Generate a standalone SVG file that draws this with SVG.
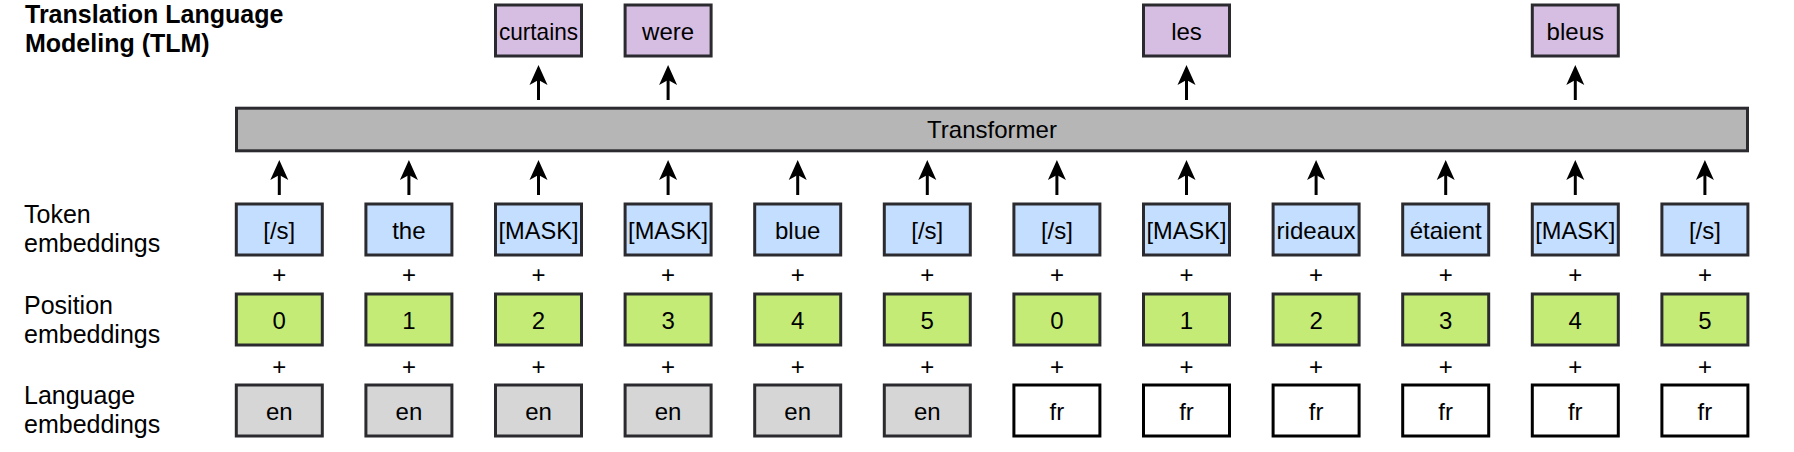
<svg xmlns="http://www.w3.org/2000/svg" width="1794" height="452" viewBox="0 0 1794 452">
<style>
text{font-family:"Liberation Sans",Arial,Helvetica,sans-serif;fill:#000}
.t{font-size:24px;text-anchor:middle}
.lbl{font-size:25px}
.title{font-size:25px;font-weight:bold}
.plus{font-size:24px;text-anchor:middle}
.box{stroke:#2b2b2f;stroke-width:3}
.tok{fill:#C3DEFF}
.pos{fill:#C5EB77}
.out{fill:#D6BEE2}
.en{fill:#D6D6D6}
.fr{fill:#FFFFFF;stroke:#000}
.tf{fill:#B6B6B6}
.conn line{stroke:#000;stroke-width:3}
</style>
<defs>
<marker id="ah" markerUnits="userSpaceOnUse" markerWidth="22" markerHeight="20" refX="12" refY="10" orient="auto" overflow="visible">
<path d="M0,1 L20,10 L0,19 L5,10 Z" fill="#000"/>
</marker>
</defs>

<g id="title">
<text class="title" x="25" y="23">Translation Language</text>
<text class="title" x="25" y="52">Modeling (TLM)</text>
</g>

<g id="labels">
<text class="lbl" x="24" y="223">Token</text>
<text class="lbl" x="24" y="252">embeddings</text>
<text class="lbl" x="24" y="314">Position</text>
<text class="lbl" x="24" y="343">embeddings</text>
<text class="lbl" x="24" y="404">Language</text>
<text class="lbl" x="24" y="433">embeddings</text>
</g>

<g id="transformer">
<rect class="box tf" x="236.5" y="108.2" width="1511" height="42.6"/>
<text class="t" x="992" y="138">Transformer</text>
</g>

<g id="out-curtains"><rect class="box out" x="495.5" y="5" width="86" height="51"/><text class="t" x="538.5" y="39.5" textLength="79" lengthAdjust="spacingAndGlyphs">curtains</text></g>
<g id="out-were"><rect class="box out" x="625.1" y="5" width="86" height="51"/><text class="t" x="668.1" y="39.5">were</text></g>
<g id="out-les"><rect class="box out" x="1143.5" y="5" width="86" height="51"/><text class="t" x="1186.5" y="39.5">les</text></g>
<g id="out-bleus"><rect class="box out" x="1532.3" y="5" width="86" height="51"/><text class="t" x="1575.3" y="39.5">bleus</text></g>

<g id="tok-0"><rect class="box tok" x="236.3" y="204" width="86" height="51"/><text class="t" x="279.3" y="238.5">[/s]</text></g>
<g id="tok-1"><rect class="box tok" x="365.9" y="204" width="86" height="51"/><text class="t" x="408.9" y="238.5">the</text></g>
<g id="tok-2"><rect class="box tok" x="495.5" y="204" width="86" height="51"/><text class="t" x="538.5" y="238.5" textLength="80" lengthAdjust="spacingAndGlyphs">[MASK]</text></g>
<g id="tok-3"><rect class="box tok" x="625.1" y="204" width="86" height="51"/><text class="t" x="668.1" y="238.5" textLength="80" lengthAdjust="spacingAndGlyphs">[MASK]</text></g>
<g id="tok-4"><rect class="box tok" x="754.7" y="204" width="86" height="51"/><text class="t" x="797.7" y="238.5">blue</text></g>
<g id="tok-5"><rect class="box tok" x="884.3" y="204" width="86" height="51"/><text class="t" x="927.3" y="238.5">[/s]</text></g>
<g id="tok-6"><rect class="box tok" x="1013.9" y="204" width="86" height="51"/><text class="t" x="1056.9" y="238.5">[/s]</text></g>
<g id="tok-7"><rect class="box tok" x="1143.5" y="204" width="86" height="51"/><text class="t" x="1186.5" y="238.5" textLength="80" lengthAdjust="spacingAndGlyphs">[MASK]</text></g>
<g id="tok-8"><rect class="box tok" x="1273.1" y="204" width="86" height="51"/><text class="t" x="1316.1" y="238.5" textLength="79" lengthAdjust="spacingAndGlyphs">rideaux</text></g>
<g id="tok-9"><rect class="box tok" x="1402.7" y="204" width="86" height="51"/><text class="t" x="1445.7" y="238.5">étaient</text></g>
<g id="tok-10"><rect class="box tok" x="1532.3" y="204" width="86" height="51"/><text class="t" x="1575.3" y="238.5" textLength="80" lengthAdjust="spacingAndGlyphs">[MASK]</text></g>
<g id="tok-11"><rect class="box tok" x="1661.9" y="204" width="86" height="51"/><text class="t" x="1704.9" y="238.5">[/s]</text></g>

<g id="pos-0"><rect class="box pos" x="236.3" y="294" width="86" height="51"/><text class="t" x="279.3" y="328.5">0</text></g>
<g id="pos-1"><rect class="box pos" x="365.9" y="294" width="86" height="51"/><text class="t" x="408.9" y="328.5">1</text></g>
<g id="pos-2"><rect class="box pos" x="495.5" y="294" width="86" height="51"/><text class="t" x="538.5" y="328.5">2</text></g>
<g id="pos-3"><rect class="box pos" x="625.1" y="294" width="86" height="51"/><text class="t" x="668.1" y="328.5">3</text></g>
<g id="pos-4"><rect class="box pos" x="754.7" y="294" width="86" height="51"/><text class="t" x="797.7" y="328.5">4</text></g>
<g id="pos-5"><rect class="box pos" x="884.3" y="294" width="86" height="51"/><text class="t" x="927.3" y="328.5">5</text></g>
<g id="pos-6"><rect class="box pos" x="1013.9" y="294" width="86" height="51"/><text class="t" x="1056.9" y="328.5">0</text></g>
<g id="pos-7"><rect class="box pos" x="1143.5" y="294" width="86" height="51"/><text class="t" x="1186.5" y="328.5">1</text></g>
<g id="pos-8"><rect class="box pos" x="1273.1" y="294" width="86" height="51"/><text class="t" x="1316.1" y="328.5">2</text></g>
<g id="pos-9"><rect class="box pos" x="1402.7" y="294" width="86" height="51"/><text class="t" x="1445.7" y="328.5">3</text></g>
<g id="pos-10"><rect class="box pos" x="1532.3" y="294" width="86" height="51"/><text class="t" x="1575.3" y="328.5">4</text></g>
<g id="pos-11"><rect class="box pos" x="1661.9" y="294" width="86" height="51"/><text class="t" x="1704.9" y="328.5">5</text></g>

<g id="lang-0"><rect class="box en" x="236.3" y="385" width="86" height="51"/><text class="t" x="279.3" y="419.5">en</text></g>
<g id="lang-1"><rect class="box en" x="365.9" y="385" width="86" height="51"/><text class="t" x="408.9" y="419.5">en</text></g>
<g id="lang-2"><rect class="box en" x="495.5" y="385" width="86" height="51"/><text class="t" x="538.5" y="419.5">en</text></g>
<g id="lang-3"><rect class="box en" x="625.1" y="385" width="86" height="51"/><text class="t" x="668.1" y="419.5">en</text></g>
<g id="lang-4"><rect class="box en" x="754.7" y="385" width="86" height="51"/><text class="t" x="797.7" y="419.5">en</text></g>
<g id="lang-5"><rect class="box en" x="884.3" y="385" width="86" height="51"/><text class="t" x="927.3" y="419.5">en</text></g>
<g id="lang-6"><rect class="box fr" x="1013.9" y="385" width="86" height="51"/><text class="t" x="1056.9" y="419.5">fr</text></g>
<g id="lang-7"><rect class="box fr" x="1143.5" y="385" width="86" height="51"/><text class="t" x="1186.5" y="419.5">fr</text></g>
<g id="lang-8"><rect class="box fr" x="1273.1" y="385" width="86" height="51"/><text class="t" x="1316.1" y="419.5">fr</text></g>
<g id="lang-9"><rect class="box fr" x="1402.7" y="385" width="86" height="51"/><text class="t" x="1445.7" y="419.5">fr</text></g>
<g id="lang-10"><rect class="box fr" x="1532.3" y="385" width="86" height="51"/><text class="t" x="1575.3" y="419.5">fr</text></g>
<g id="lang-11"><rect class="box fr" x="1661.9" y="385" width="86" height="51"/><text class="t" x="1704.9" y="419.5">fr</text></g>

<g id="plus-signs">
<text class="plus" x="279.3" y="283">+</text><text class="plus" x="408.9" y="283">+</text><text class="plus" x="538.5" y="283">+</text><text class="plus" x="668.1" y="283">+</text><text class="plus" x="797.7" y="283">+</text><text class="plus" x="927.3" y="283">+</text><text class="plus" x="1056.9" y="283">+</text><text class="plus" x="1186.5" y="283">+</text><text class="plus" x="1316.1" y="283">+</text><text class="plus" x="1445.7" y="283">+</text><text class="plus" x="1575.3" y="283">+</text><text class="plus" x="1704.9" y="283">+</text>
<text class="plus" x="279.3" y="375">+</text><text class="plus" x="408.9" y="375">+</text><text class="plus" x="538.5" y="375">+</text><text class="plus" x="668.1" y="375">+</text><text class="plus" x="797.7" y="375">+</text><text class="plus" x="927.3" y="375">+</text><text class="plus" x="1056.9" y="375">+</text><text class="plus" x="1186.5" y="375">+</text><text class="plus" x="1316.1" y="375">+</text><text class="plus" x="1445.7" y="375">+</text><text class="plus" x="1575.3" y="375">+</text><text class="plus" x="1704.9" y="375">+</text>
</g>

<g id="connectors" class="conn">
<line x1="279.3" y1="195" x2="279.3" y2="168" marker-end="url(#ah)"/>
<line x1="408.9" y1="195" x2="408.9" y2="168" marker-end="url(#ah)"/>
<line x1="538.5" y1="195" x2="538.5" y2="168" marker-end="url(#ah)"/>
<line x1="668.1" y1="195" x2="668.1" y2="168" marker-end="url(#ah)"/>
<line x1="797.7" y1="195" x2="797.7" y2="168" marker-end="url(#ah)"/>
<line x1="927.3" y1="195" x2="927.3" y2="168" marker-end="url(#ah)"/>
<line x1="1056.9" y1="195" x2="1056.9" y2="168" marker-end="url(#ah)"/>
<line x1="1186.5" y1="195" x2="1186.5" y2="168" marker-end="url(#ah)"/>
<line x1="1316.1" y1="195" x2="1316.1" y2="168" marker-end="url(#ah)"/>
<line x1="1445.7" y1="195" x2="1445.7" y2="168" marker-end="url(#ah)"/>
<line x1="1575.3" y1="195" x2="1575.3" y2="168" marker-end="url(#ah)"/>
<line x1="1704.9" y1="195" x2="1704.9" y2="168" marker-end="url(#ah)"/>
<line x1="538.5" y1="100" x2="538.5" y2="73" marker-end="url(#ah)"/>
<line x1="668.1" y1="100" x2="668.1" y2="73" marker-end="url(#ah)"/>
<line x1="1186.5" y1="100" x2="1186.5" y2="73" marker-end="url(#ah)"/>
<line x1="1575.3" y1="100" x2="1575.3" y2="73" marker-end="url(#ah)"/>
</g>
</svg>
